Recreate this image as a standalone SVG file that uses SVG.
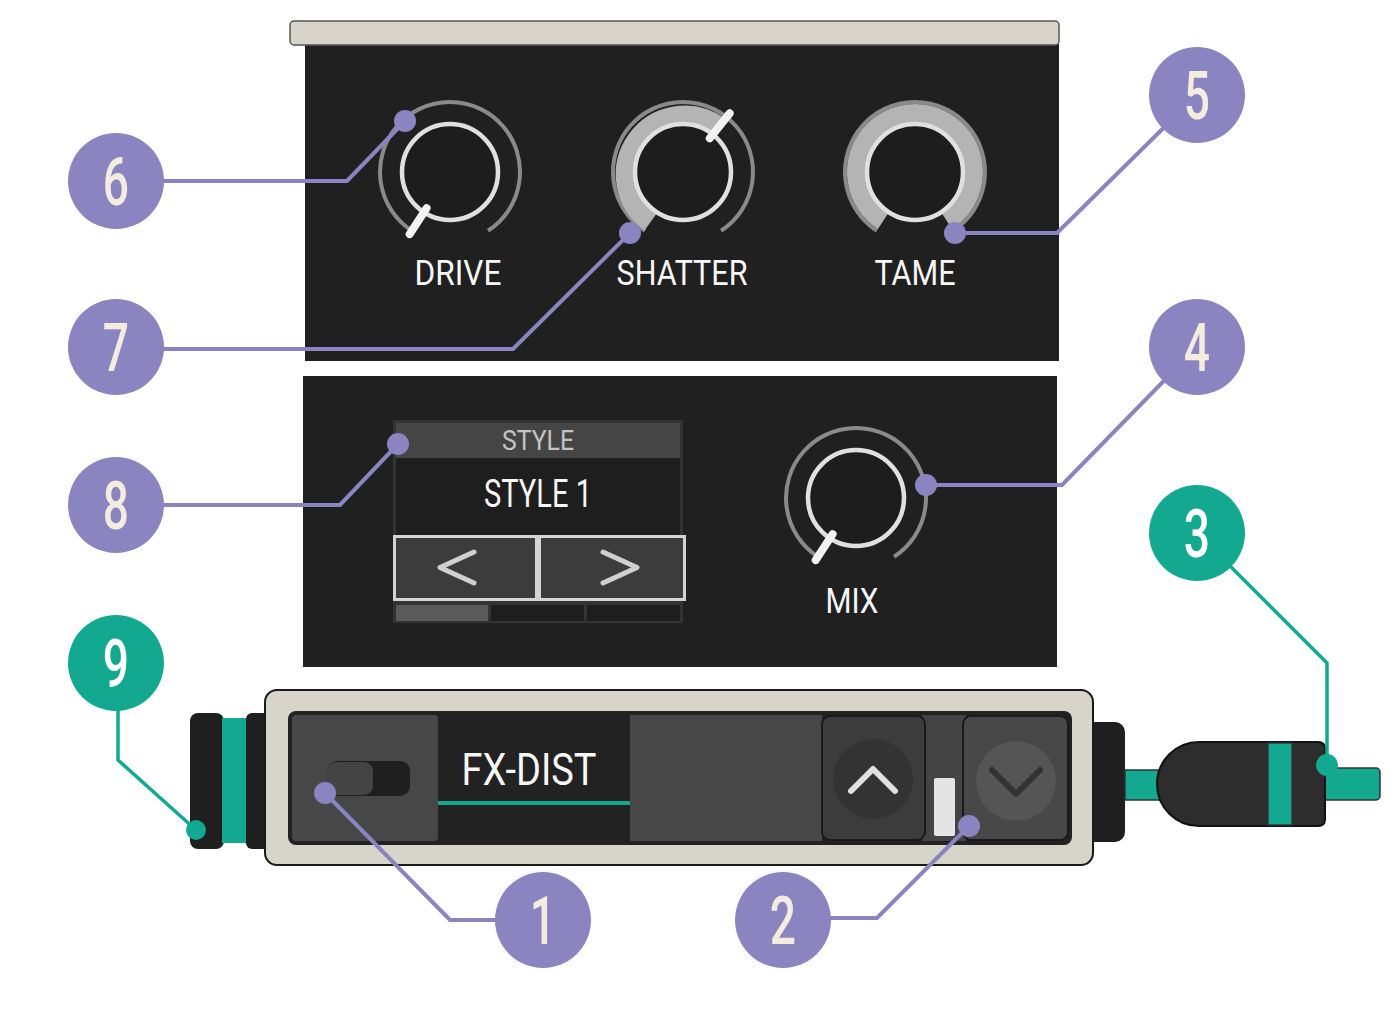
<svg xmlns="http://www.w3.org/2000/svg" width="1400" height="1013" viewBox="0 0 1400 1013">
<style>
.panel{fill:#202020}
.lbl{font-family:Roboto,"Liberation Sans",sans-serif;fill:#f7f7f7;text-anchor:middle}
.num{font-family:Roboto,"Liberation Sans",sans-serif;font-weight:500;font-size:66px;fill:#f3ecdf;text-anchor:middle}
.pc{fill:#8a84c0}
.tc{fill:#13a890}
.pl{fill:none;stroke:#8a84c0;stroke-width:4}
.tl{fill:none;stroke:#13a890;stroke-width:3.5}
.arc{fill:none;stroke:#8a8a8a;stroke-width:4}
.band{fill:none;stroke:#b4b4b4;stroke-width:20}
.ring{fill:#1d1d1d;stroke:#e0e0e0;stroke-width:4.5}
.ptr{stroke:#f2f2f2;stroke-width:8;stroke-linecap:round}
.chev{fill:none;stroke-linecap:round;stroke-linejoin:round}
</style>
<rect width="1400" height="1013" fill="#ffffff"/>

<g id="top-panel">
<rect x="305" y="44" width="754" height="317" class="panel"/>
<rect x="290" y="21" width="769" height="24" rx="4" fill="#d7d5c9" stroke="#555" stroke-width="1.5"/>
</g>

<g id="drive-knob">
<path class="arc" d="M411.9,230.7 A70,70 0 1 1 488.1,230.7"/>
<circle cx="450" cy="172" r="48" class="ring"/>
<line class="ptr" x1="426.6" y1="208.1" x2="409.7" y2="234.1"/>
<text class="lbl" x="458" y="285" font-size="35" textLength="87" lengthAdjust="spacingAndGlyphs">DRIVE</text>
</g>

<g id="shatter-knob">
<path class="arc" d="M644.9,230.7 A70,70 0 1 1 721.1,230.7"/>
<path class="band" d="M650.3,222.3 A58,58 0 1 1 719.1,126.6"/>
<circle cx="683" cy="172" r="48" class="ring"/>
<line class="ptr" x1="709.8" y1="138.3" x2="729.7" y2="113.3"/>
<text class="lbl" x="682" y="285" font-size="35" textLength="131" lengthAdjust="spacingAndGlyphs">SHATTER</text>
</g>

<g id="tame-knob">
<path class="arc" d="M876.9,230.7 A70,70 0 1 1 953.1,230.7"/>
<path class="band" d="M883.4,220.6 A58,58 0 1 1 946.6,220.6"/>
<circle cx="915" cy="172" r="48" class="ring"/>
<text class="lbl" x="915" y="285" font-size="35" textLength="81" lengthAdjust="spacingAndGlyphs">TAME</text>
</g>

<g id="bottom-panel">
<rect x="303" y="376" width="754" height="291" class="panel"/>
</g>

<g id="style-selector">
<rect x="393" y="420" width="290" height="203" fill="#333"/>
<rect x="396" y="423" width="284" height="35" fill="#454545"/>
<rect x="396" y="458" width="284" height="77" fill="#1e1e1e"/>
<text class="lbl" x="538" y="450" font-size="28" style="fill:#c4c4c4" textLength="72" lengthAdjust="spacingAndGlyphs">STYLE</text>
<text class="lbl" x="538" y="507" font-size="38" textLength="108" lengthAdjust="spacingAndGlyphs">STYLE 1</text>
<rect x="394.5" y="536.5" width="142" height="63" fill="#3c3c3c" stroke="#d4d4d4" stroke-width="3"/>
<rect x="539.5" y="536.5" width="145" height="63" fill="#3c3c3c" stroke="#d4d4d4" stroke-width="3"/>
<polyline class="chev" points="474,552 440,567.5 474,583" stroke="#d0d0d0" stroke-width="5"/>
<polyline class="chev" points="603,552 637,567.5 603,583" stroke="#d0d0d0" stroke-width="5"/>
<rect x="396" y="605" width="92" height="16" fill="#5a5a5a"/>
<rect x="491" y="605" width="93" height="16" fill="#1e1e1e"/>
<rect x="587" y="605" width="93" height="16" fill="#1e1e1e"/>
</g>

<g id="mix-knob">
<path class="arc" d="M817.9,556.7 A70,70 0 1 1 894.1,556.7"/>
<circle cx="856" cy="498" r="48" class="ring"/>
<line class="ptr" x1="832.6" y1="534.1" x2="815.7" y2="560.1"/>
<text class="lbl" x="852" y="613" font-size="35" textLength="53" lengthAdjust="spacingAndGlyphs">MIX</text>
</g>

<g id="device">
<rect x="190" y="713" width="34" height="136" rx="8" fill="#1f1f1f"/>
<rect x="222" y="718" width="25" height="125" fill="#13a890"/>
<rect x="246" y="713" width="24" height="136" rx="6" fill="#1f1f1f"/>
<rect x="1085" y="722" width="40" height="120" rx="10" fill="#1f1f1f"/>
<rect x="1125" y="770" width="40" height="30" fill="#13a890" stroke="#333" stroke-width="1.5"/>
<rect x="265" y="690" width="828" height="175" rx="12" fill="#d7d5c9" stroke="#1a1a1a" stroke-width="2"/>
<rect x="288" y="711" width="784" height="134" rx="8" fill="#222"/>
<rect x="292" y="715" width="146" height="126" rx="4" fill="#474747"/>
<rect x="630" y="715" width="192" height="126" fill="#474747"/>
<rect x="922" y="715" width="44" height="126" fill="#444"/>
<rect x="327" y="761" width="83" height="35" rx="10" fill="#1f1f1f"/>
<rect x="327" y="762" width="46" height="33" rx="9" fill="#444"/>
<text class="lbl" x="529" y="785" font-size="44" textLength="135" lengthAdjust="spacingAndGlyphs">FX-DIST</text>
<line x1="438" y1="803" x2="630" y2="803" stroke="#13a890" stroke-width="4"/>
<rect x="822" y="716" width="103" height="124" rx="8" fill="#3c3c3c" stroke="#1a1a1a" stroke-width="2"/>
<circle cx="873" cy="779" r="40" fill="#333"/>
<polyline class="chev" points="851,791 873,769 895,791" stroke="#e0e0e0" stroke-width="6"/>
<rect x="934" y="778" width="21" height="58" rx="2" fill="#e4e4e4"/>
<rect x="963" y="716" width="105" height="124" rx="8" fill="#484848" stroke="#1a1a1a" stroke-width="2"/>
<circle cx="1016" cy="781" r="40" fill="#555"/>
<polyline class="chev" points="992,770 1016,794 1040,770" stroke="#333" stroke-width="6"/>
</g>

<g id="plug">
<rect x="1318" y="768" width="62" height="32" rx="4" fill="#13a890" stroke="#333" stroke-width="1.5"/>
<path d="M1199,742 H1318 Q1325,742 1325,749 V819 Q1325,826 1318,826 H1199 A42,42 0 0 1 1199,742 Z" fill="#2d2d2d" stroke="#111" stroke-width="2"/>
<rect x="1268" y="743" width="24" height="82" fill="#13a890" stroke="#333" stroke-width="1.5"/>
</g>

<g id="connectors">
<polyline class="pl" points="116,181 347,181 405,121"/>
<polyline class="pl" points="116,349 513,349 630,233"/>
<polyline class="pl" points="955,233 1057,233 1197,95"/>
<polyline class="pl" points="926,485 1062,485 1197,347"/>
<polyline class="pl" points="116,505 340,505 398,444"/>
<polyline class="pl" points="325,793 450,920 543,920"/>
<polyline class="pl" points="783,918 877,918 969,826"/>
<polyline class="tl" points="118,663 118,760 196,830"/>
<polyline class="tl" points="1197,533 1327,663 1327,765"/>
<circle class="pc" cx="405" cy="121" r="11"/>
<circle class="pc" cx="630" cy="233" r="11"/>
<circle class="pc" cx="955" cy="233" r="11"/>
<circle class="pc" cx="926" cy="485" r="11"/>
<circle class="pc" cx="398" cy="444" r="11"/>
<circle class="pc" cx="325" cy="793" r="11"/>
<circle class="pc" cx="969" cy="826" r="11"/>
<circle class="tc" cx="196" cy="830" r="10"/>
<circle class="tc" cx="1327" cy="765" r="11"/>
</g>

<g id="callout-1"><circle class="pc" cx="543" cy="920" r="48"/><text class="num" transform="translate(543,944) scale(0.7,1)">1</text></g>
<g id="callout-2"><circle class="pc" cx="783" cy="920" r="48"/><text class="num" transform="translate(783,944) scale(0.7,1)">2</text></g>
<g id="callout-3"><circle class="tc" cx="1197" cy="533" r="48"/><text class="num" style="fill:#ffffff" transform="translate(1197,557) scale(0.7,1)">3</text></g>
<g id="callout-4"><circle class="pc" cx="1197" cy="347" r="48"/><text class="num" transform="translate(1197,371) scale(0.7,1)">4</text></g>
<g id="callout-5"><circle class="pc" cx="1197" cy="95" r="48"/><text class="num" transform="translate(1197,119) scale(0.7,1)">5</text></g>
<g id="callout-6"><circle class="pc" cx="116" cy="181" r="48"/><text class="num" transform="translate(116,205) scale(0.7,1)">6</text></g>
<g id="callout-7"><circle class="pc" cx="116" cy="347" r="48"/><text class="num" transform="translate(116,371) scale(0.7,1)">7</text></g>
<g id="callout-8"><circle class="pc" cx="116" cy="505" r="48"/><text class="num" transform="translate(116,529) scale(0.7,1)">8</text></g>
<g id="callout-9"><circle class="tc" cx="116" cy="663" r="48"/><text class="num" style="fill:#ffffff" transform="translate(116,687) scale(0.7,1)">9</text></g>
</svg>
